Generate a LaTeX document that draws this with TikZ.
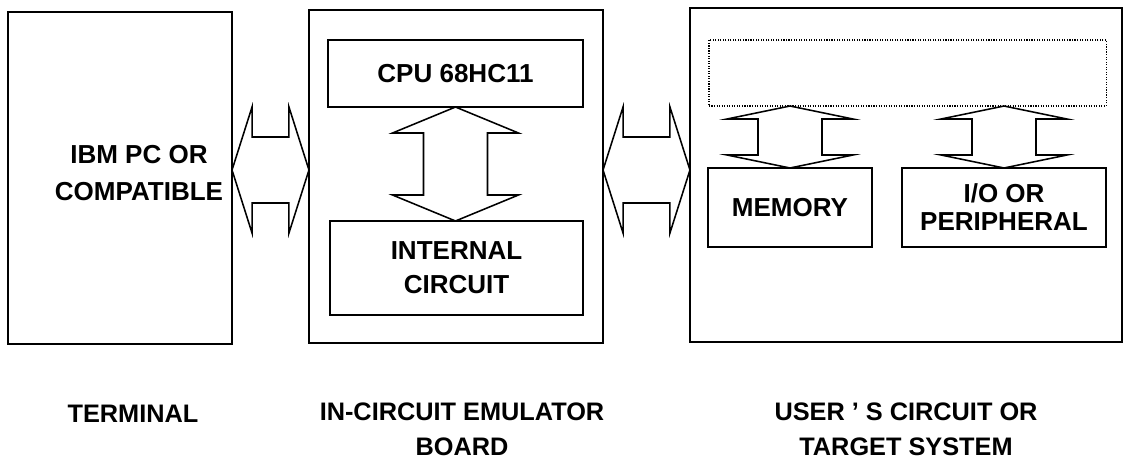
\documentclass[tikz,border=0pt]{standalone}
\usepackage{fontspec}
\setmainfont{Liberation Sans}
\usepackage{tikz}
\usetikzlibrary{calc}

% double headed bus arrows, tip to tip
\newcommand{\hbus}[3]{%
  \draw[busline] (#1) -- ($(#1)+(#3,-63)$) -- ($(#1)+(#3,-33)$) -- ($(#2)+(-#3,-33)$) -- ($(#2)+(-#3,-63)$)
    -- (#2) -- ($(#2)+(-#3,63)$) -- ($(#2)+(-#3,33)$) -- ($(#1)+(#3,33)$) -- ($(#1)+(#3,63)$) -- cycle;}
\newcommand{\vbus}[3]{%
  \draw[busline] (#1) -- ($(#1)+(63,#3)$) -- ($(#1)+(32,#3)$) -- ($(#2)+(32,-#3)$) -- ($(#2)+(63,-#3)$)
    -- (#2) -- ($(#2)+(-63,-#3)$) -- ($(#2)+(-32,-#3)$) -- ($(#1)+(-32,#3)$) -- ($(#1)+(-63,#3)$) -- cycle;}

\begin{document}
\begin{tikzpicture}[
  x=0.025cm, y=-0.025cm,
  unit/.style={draw, line width=1.5pt, inner sep=0pt, outer sep=0pt},
  block/.style={draw, line width=1.3pt, inner sep=0pt, outer sep=0pt, align=center, font=\fontsize{18.5}{24}\selectfont\bfseries},
  busline/.style={line width=1.1pt, line join=miter},
  caption/.style={align=center, font=\fontsize{18}{25}\selectfont\bfseries}
]
\useasboundingbox (0,0) rectangle (1124,463);

% Units
\node[unit, minimum width=5.6cm, minimum height=8.3cm] (term) at (120,178) {};
\node[unit, minimum width=7.35cm, minimum height=8.325cm] (board) at (456,176.5) {};
\node[unit, minimum width=10.8cm, minimum height=8.35cm] (user) at (906,175) {};
\node[align=center, font=\fontsize{18.5}{26.5}\selectfont\bfseries] (pc) at (139,173) {IBM PC OR\\COMPATIBLE};

% Blocks
\node[block, minimum width=6.375cm, minimum height=1.675cm] (cpu) at (455.5,73.5) {CPU 68HC11};
\node[block, minimum width=6.325cm, minimum height=2.35cm] (internal) at (456.5,268) {INTERNAL\\CIRCUIT};
\node[draw, densely dotted, line width=0.8pt, inner sep=0pt, outer sep=0pt, minimum width=9.925cm, minimum height=1.65cm] (bus) at (907.5,73) {};
\node[block, minimum width=4.1cm, minimum height=1.975cm] (mem) at (790,207.5) {MEMORY};
\node[block, minimum width=5.1cm, minimum height=1.975cm, font=\fontsize{18.5}{20}\selectfont\bfseries] (io) at (1004,207.5) {I/O OR\\PERIPHERAL};

% Captions
\node[caption] (capterm) at (133,414) {TERMINAL};
\node[caption] (capboard) at (462,429) {IN-CIRCUIT EMULATOR\\BOARD};
\node[caption] (capuser) at (906,429) {USER ' S CIRCUIT OR\\TARGET SYSTEM};

% Buses
\coordinate (link) at (0,170);
\coordinate (t1) at (term.east |- link);
\coordinate (b1) at (board.west |- link);
\coordinate (b2) at (board.east |- link);
\coordinate (u1) at (user.west |- link);
\coordinate (c1) at (cpu.south |- internal.north);
\coordinate (m1) at (mem.north |- bus.south);
\coordinate (i1) at (io.north |- bus.south);
\hbus{t1}{b1}{20}
\hbus{b2}{u1}{20}
\vbus{cpu.south}{c1}{26}
\vbus{m1}{mem.north}{13}
\vbus{i1}{io.north}{13}

\end{tikzpicture}
\end{document}
